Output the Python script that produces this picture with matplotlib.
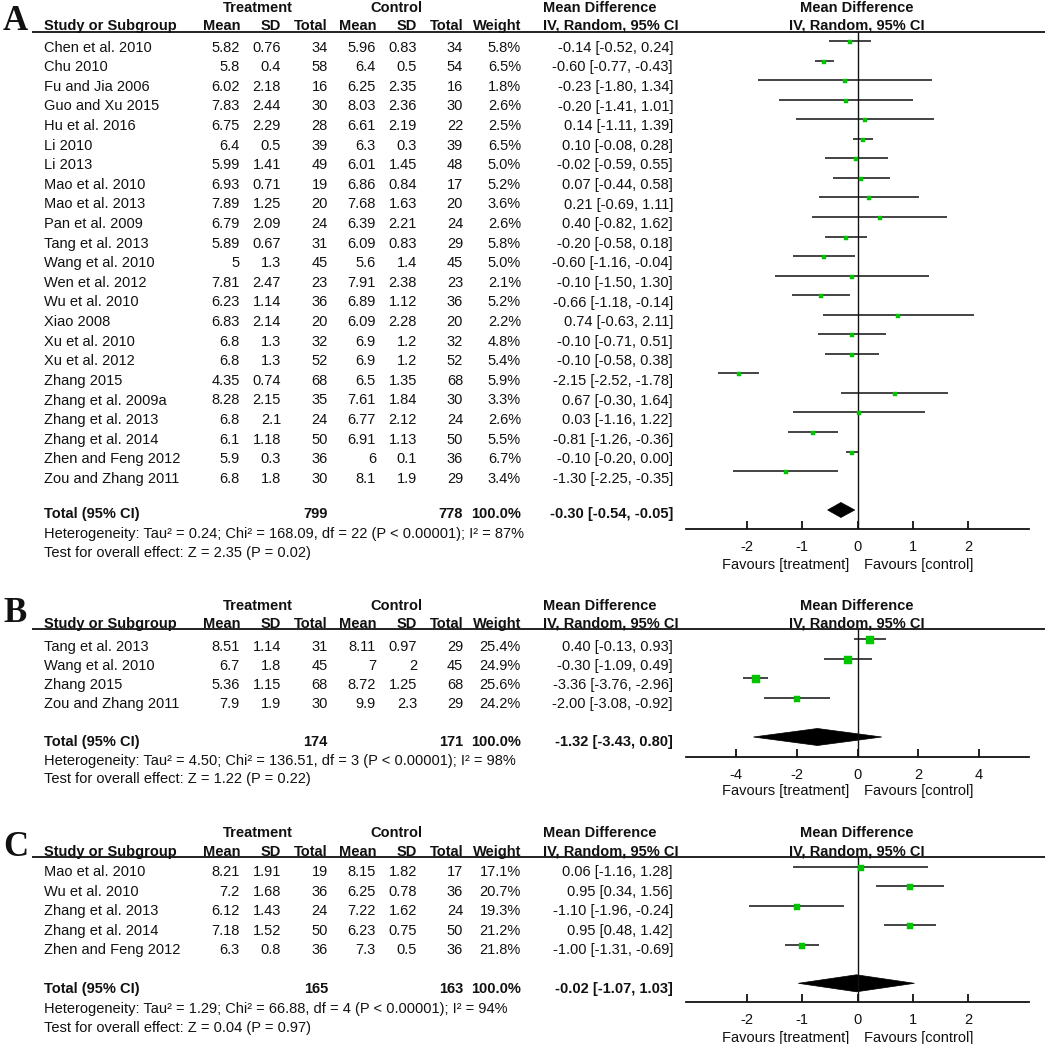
import matplotlib
matplotlib.use('Agg')
import numpy as np
import matplotlib.pyplot as plt
from matplotlib.patches import Polygon

plt.rcParams['font.family'] = ['Liberation Sans', 'DejaVu Sans']
plt.rcParams['axes.unicode_minus'] = False

# ---------------- Panel A data ----------------
a_study = ["Chen et al. 2010", "Chu 2010", "Fu and Jia 2006", "Guo and Xu 2015", "Hu et al. 2016",
           "Li 2010", "Li 2013", "Mao et al. 2010", "Mao et al. 2013", "Pan et al. 2009",
           "Tang et al. 2013", "Wang et al. 2010", "Wen et al. 2012", "Wu et al. 2010", "Xiao 2008",
           "Xu et al. 2010", "Xu et al. 2012", "Zhang 2015", "Zhang et al. 2009a", "Zhang et al. 2013",
           "Zhang et al. 2014", "Zhen and Feng 2012", "Zou and Zhang 2011"]
a_t_mean = [5.82, 5.8, 6.02, 7.83, 6.75, 6.4, 5.99, 6.93, 7.89, 6.79, 5.89, 5, 7.81, 6.23, 6.83, 6.8, 6.8, 4.35, 8.28, 6.8, 6.1, 5.9, 6.8]
a_t_sd = [0.76, 0.4, 2.18, 2.44, 2.29, 0.5, 1.41, 0.71, 1.25, 2.09, 0.67, 1.3, 2.47, 1.14, 2.14, 1.3, 1.3, 0.74, 2.15, 2.1, 1.18, 0.3, 1.8]
a_t_n = [34, 58, 16, 30, 28, 39, 49, 19, 20, 24, 31, 45, 23, 36, 20, 32, 52, 68, 35, 24, 50, 36, 30]
a_c_mean = [5.96, 6.4, 6.25, 8.03, 6.61, 6.3, 6.01, 6.86, 7.68, 6.39, 6.09, 5.6, 7.91, 6.89, 6.09, 6.9, 6.9, 6.5, 7.61, 6.77, 6.91, 6, 8.1]
a_c_sd = [0.83, 0.5, 2.35, 2.36, 2.19, 0.3, 1.45, 0.84, 1.63, 2.21, 0.83, 1.4, 2.38, 1.12, 2.28, 1.2, 1.2, 1.35, 1.84, 2.12, 1.13, 0.1, 1.9]
a_c_n = [34, 54, 16, 30, 22, 39, 48, 17, 20, 24, 29, 45, 23, 36, 20, 32, 52, 68, 30, 24, 50, 36, 29]
a_weight = [5.8, 6.5, 1.8, 2.6, 2.5, 6.5, 5.0, 5.2, 3.6, 2.6, 5.8, 5.0, 2.1, 5.2, 2.2, 4.8, 5.4, 5.9, 3.3, 2.6, 5.5, 6.7, 3.4]
a_md = [-0.14, -0.60, -0.23, -0.20, 0.14, 0.10, -0.02, 0.07, 0.21, 0.40, -0.20, -0.60, -0.10, -0.66, 0.74, -0.10, -0.10, -2.15, 0.67, 0.03, -0.81, -0.10, -1.30]
a_lo = [-0.52, -0.77, -1.80, -1.41, -1.11, -0.08, -0.59, -0.44, -0.69, -0.82, -0.58, -1.16, -1.50, -1.18, -0.63, -0.71, -0.58, -2.52, -0.30, -1.16, -1.26, -0.20, -2.25]
a_hi = [0.24, -0.43, 1.34, 1.01, 1.39, 0.28, 0.55, 0.58, 1.11, 1.62, 0.18, -0.04, 1.30, -0.14, 2.11, 0.51, 0.38, -1.78, 1.64, 1.22, -0.36, 0.00, -0.35]
a_total = (799, 778, -0.30, -0.54, -0.05)
a_het = "Heterogeneity: Tau\u00b2 = 0.24; Chi\u00b2 = 168.09, df = 22 (P < 0.00001); I\u00b2 = 87%"
a_test = "Test for overall effect: Z = 2.35 (P = 0.02)"
a_ticks = [-2, -1, 0, 1, 2]

# ---------------- Panel B data ----------------
b_study = ["Tang et al. 2013", "Wang et al. 2010", "Zhang 2015", "Zou and Zhang 2011"]
b_t_mean = [8.51, 6.7, 5.36, 7.9]
b_t_sd = [1.14, 1.8, 1.15, 1.9]
b_t_n = [31, 45, 68, 30]
b_c_mean = [8.11, 7, 8.72, 9.9]
b_c_sd = [0.97, 2, 1.25, 2.3]
b_c_n = [29, 45, 68, 29]
b_weight = [25.4, 24.9, 25.6, 24.2]
b_md = [0.40, -0.30, -3.36, -2.00]
b_lo = [-0.13, -1.09, -3.76, -3.08]
b_hi = [0.93, 0.49, -2.96, -0.92]
b_total = (174, 171, -1.32, -3.43, 0.80)
b_het = "Heterogeneity: Tau\u00b2 = 4.50; Chi\u00b2 = 136.51, df = 3 (P < 0.00001); I\u00b2 = 98%"
b_test = "Test for overall effect: Z = 1.22 (P = 0.22)"
b_ticks = [-4, -2, 0, 2, 4]

# ---------------- Panel C data ----------------
c_study = ["Mao et al. 2010", "Wu et al. 2010", "Zhang et al. 2013", "Zhang et al. 2014", "Zhen and Feng 2012"]
c_t_mean = [8.21, 7.2, 6.12, 7.18, 6.3]
c_t_sd = [1.91, 1.68, 1.43, 1.52, 0.8]
c_t_n = [19, 36, 24, 50, 36]
c_c_mean = [8.15, 6.25, 7.22, 6.23, 7.3]
c_c_sd = [1.82, 0.78, 1.62, 0.75, 0.5]
c_c_n = [17, 36, 24, 50, 36]
c_weight = [17.1, 20.7, 19.3, 21.2, 21.8]
c_md = [0.06, 0.95, -1.10, 0.95, -1.00]
c_lo = [-1.16, 0.34, -1.96, 0.48, -1.31]
c_hi = [1.28, 1.56, -0.24, 1.42, -0.69]
c_total = (165, 163, -0.02, -1.07, 1.03)
c_het = "Heterogeneity: Tau\u00b2 = 1.29; Chi\u00b2 = 66.88, df = 4 (P < 0.00001); I\u00b2 = 94%"
c_test = "Test for overall effect: Z = 0.04 (P = 0.97)"
c_ticks = [-2, -1, 0, 1, 2]

# ---------------- figure ----------------
W, H = 1045, 1044
FS = 10.5
GREEN = '#00c400'
INK = '#111111'
fig = plt.figure(figsize=(W / 100, H / 100), dpi=100)
bg = fig.add_axes([0, 0, 1, 1])
bg.set_xlim(0, W)
bg.set_ylim(H, 0)
bg.axis('off')

COLS = [240, 281, 328, 376, 417, 463, 521]
HDRS = ['Mean', 'SD', 'Total', 'Mean', 'SD', 'Total', 'Weight']
X_STUDY = 44
X_CI = 673
X_MDHDR = 543
X_PLOT0, X_PLOT1 = 686, 1029


def fmt(v):
    return f"{v:g}"


def ci_str(m, l, h):
    return f"{m:.2f} [{l:.2f}, {h:.2f}]"


def panel(letter, lay, study, tm, tsd, tn, cm, csd, cn, w, md, lo, hi, total, het, test, ticks, lim):
    T = dict(fontsize=FS, color=INK, va='center')
    off = 1.0
    bg.text(3, lay['letter'], letter, fontfamily='Liberation Serif', fontweight='bold',
            fontsize=25, va='center', ha='left', color=INK)
    # headers
    bg.text(258, lay['h1'] + off, 'Treatment', ha='center', fontweight='bold', **T)
    bg.text(396, lay['h1'] + off, 'Control', ha='center', fontweight='bold', **T)
    bg.text(X_MDHDR, lay['h1'] + off, 'Mean Difference', ha='left', fontweight='bold', **T)
    bg.text(857, lay['h1'] + off, 'Mean Difference', ha='center', fontweight='bold', **T)
    bg.text(X_STUDY, lay['h2'] + off, 'Study or Subgroup', ha='left', fontweight='bold', **T)
    for x, h in zip(COLS, HDRS):
        bg.text(x, lay['h2'] + off, h, ha='right', fontweight='bold', **T)
    bg.text(X_MDHDR, lay['h2'] + off, 'IV, Random, 95% CI', ha='left', fontweight='bold', **T)
    bg.text(857, lay['h2'] + off, 'IV, Random, 95% CI', ha='center', fontweight='bold', **T)
    bg.plot([32, W], [lay['line'], lay['line']], color=INK, lw=1.3, solid_capstyle='butt')
    # rows
    for i, s in enumerate(study):
        y = lay['t0'] + i * lay['tdy'] + off
        bg.text(X_STUDY, y, s, ha='left', **T)
        vals = [fmt(tm[i]), fmt(tsd[i]), str(tn[i]), fmt(cm[i]), fmt(csd[i]), str(cn[i]), f"{w[i]:.1f}%"]
        for x, v in zip(COLS, vals):
            bg.text(x, y, v, ha='right', **T)
        bg.text(X_CI, y, ci_str(md[i], lo[i], hi[i]), ha='right', **T)
    # total
    y = lay['total'] + off
    bg.text(X_STUDY, y, 'Total (95% CI)', ha='left', fontweight='bold', **T)
    bg.text(COLS[2], y, str(total[0]), ha='right', fontweight='bold', **T)
    bg.text(COLS[5], y, str(total[1]), ha='right', fontweight='bold', **T)
    bg.text(COLS[6], y, '100.0%', ha='right', fontweight='bold', **T)
    bg.text(X_CI, y, ci_str(*total[2:]), ha='right', fontweight='bold', **T)
    bg.text(X_STUDY, lay['het'] + off, het, ha='left', **T)
    bg.text(X_STUDY, lay['test'] + off, test, ha='left', **T)
    bg.text(849, lay['fav'] + off, 'Favours [treatment]', ha='right', **T)
    bg.text(864, lay['fav'] + off, 'Favours [control]', ha='left', **T)

    # forest plot axes (y in pixel units of the figure)
    top, bot = lay['line'], lay['axis']
    ax = fig.add_axes([X_PLOT0 / W, 1 - bot / H, (X_PLOT1 - X_PLOT0) / W, (bot - top) / H])
    ax.set_xlim(-lim, lim)
    ax.set_ylim(bot, top)
    ax.patch.set_alpha(0)
    for sp in ['top', 'left', 'right']:
        ax.spines[sp].set_visible(False)
    ax.spines['bottom'].set_linewidth(1.3)
    ax.spines['bottom'].set_color(INK)
    ax.set_yticks([])
    ax.set_xticks(ticks)
    ax.set_xticklabels([str(t) for t in ticks])
    ax.tick_params(axis='x', direction='in', length=6, width=1.3, color=INK,
                   labelsize=FS, labelcolor=INK, pad=8)
    ax.axvline(0, color=INK, lw=1.0)
    for i in range(len(study)):
        yc = lay['c0'] + i * lay['cdy']
        ax.plot([lo[i], hi[i]], [yc, yc], color=INK, lw=1.1, solid_capstyle='butt')
        side = 2.3 + 0.95 * np.sqrt(w[i])
        ax.plot([md[i]], [yc + 1], marker='s', ms=side * 0.72, color=GREEN, mec=GREEN, mew=0.3, ls='none')
    m, l, h = total[2:]
    yd = lay['diamond']
    hh = lay['dh']
    ax.add_patch(Polygon([[l, yd], [m, yd - hh], [h, yd], [m, yd + hh]], closed=True,
                         facecolor='black', edgecolor='black', lw=0.5))
    return ax


layA = dict(letter=21, h1=6.7, h2=25, line=31.7, t0=46.7, tdy=19.6, c0=41, cdy=19.55,
            total=513, het=533, test=552, diamond=510, dh=7.5, axis=529.3, fav=564)
layB = dict(letter=613, h1=604.5, h2=623, line=629.3, t0=645.8, tdy=19.2, c0=639.3, cdy=19.45,
            total=740.7, het=760, test=778.3, diamond=737, dh=8.5, axis=757, fav=790)
layC = dict(letter=847, h1=831.7, h2=850.7, line=857.3, t0=871, tdy=19.6, c0=866.7, cdy=19.5,
            total=987.7, het=1007.7, test=1027.3, diamond=983.3, dh=8.5, axis=1002.3, fav=1036.7)

panel('A', layA, a_study, a_t_mean, a_t_sd, a_t_n, a_c_mean, a_c_sd, a_c_n, a_weight,
      a_md, a_lo, a_hi, a_total, a_het, a_test, a_ticks, 3.1)
panel('B', layB, b_study, b_t_mean, b_t_sd, b_t_n, b_c_mean, b_c_sd, b_c_n, b_weight,
      b_md, b_lo, b_hi, b_total, b_het, b_test, b_ticks, 5.65)
panel('C', layC, c_study, c_t_mean, c_t_sd, c_t_n, c_c_mean, c_c_sd, c_c_n, c_weight,
      c_md, c_lo, c_hi, c_total, c_het, c_test, c_ticks, 3.1)

fig.savefig('out.png', dpi=100)
